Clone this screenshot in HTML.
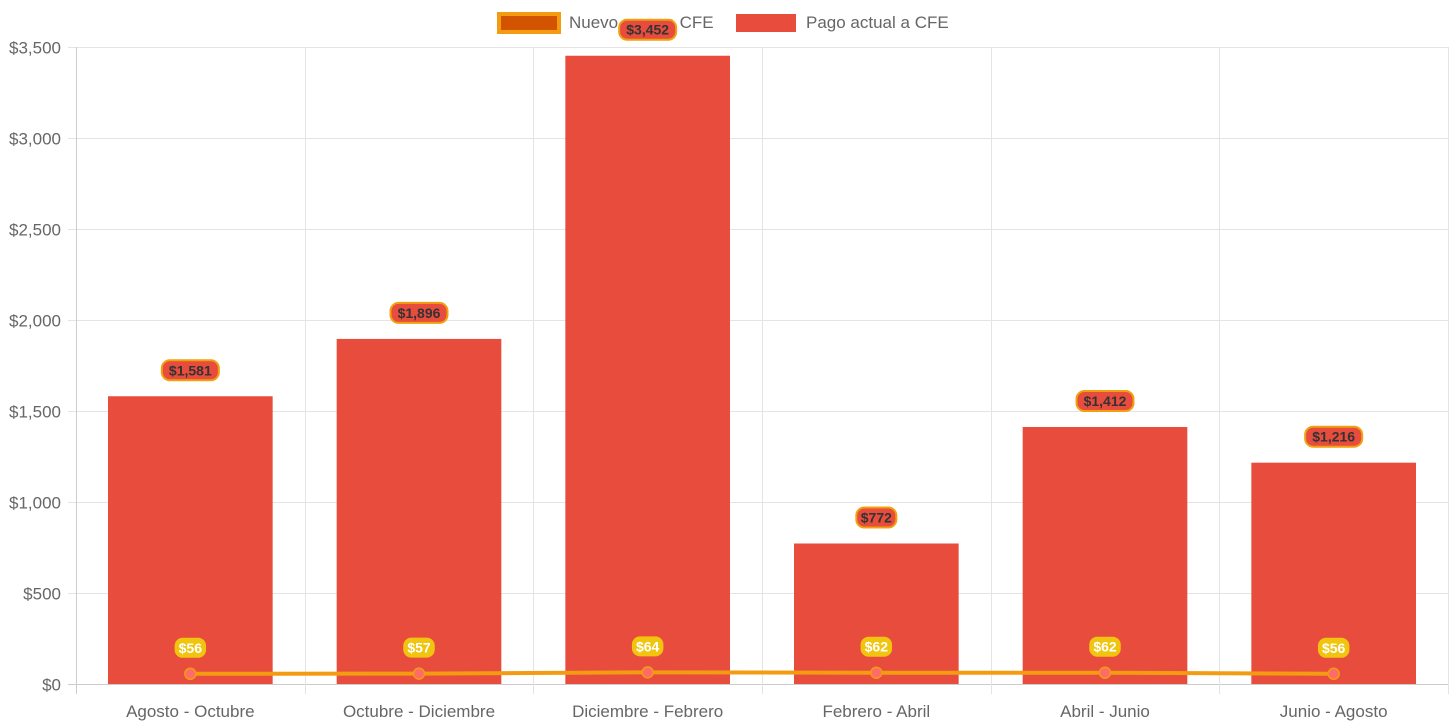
<!DOCTYPE html>
<html><head><meta charset="utf-8"><style>
body{margin:0;background:#fff;font-family:"Liberation Sans",Arial,sans-serif}
svg{display:block}
</style></head><body>
<svg id="chart" width="1456" height="727" xmlns="http://www.w3.org/2000/svg" font-family="Liberation Sans, Arial, sans-serif">
<g>
 <g>
  <rect x="499" y="14" width="60" height="18" fill="#d35400" stroke="#f39c12" stroke-width="4"/>
  <text x="569" y="28" font-size="17" fill="#666">Nuevo pago a CFE</text>
 </g>
 <g>
  <rect x="736" y="14" width="60" height="18" fill="#e74c3c"/>
  <text x="806" y="28" font-size="17" fill="#666">Pago actual a CFE</text>
 </g>
</g>
<g id="grid"></g>
<g id="bars"></g>
<g id="line"></g>
<g id="labels"></g>
</svg>
<script>
const categories=["Agosto - Octubre","Octubre - Diciembre","Diciembre - Febrero","Febrero - Abril","Abril - Junio","Junio - Agosto"];
const actualValues=[1581,1896,3452,772,1412,1216];
const nuevoValues=[56,57,64,62,62,56];
const yTicks=[0,500,1000,1500,2000,2500,3000,3500];
const NS="http://www.w3.org/2000/svg";
const X0=76,X1=1448,Y0=684,YT=47,YMAX=3500;
const cw=(X1-X0)/categories.length;
function xC(i){return X0+cw*(i+0.5);}
function yS(v){return Y0-(v/YMAX)*(Y0-YT);}
function fmt(v){return "$"+v.toLocaleString("en-US");}
function mk(tag,attrs,parent,txt){const e=document.createElementNS(NS,tag);for(const k in attrs)e.setAttribute(k,attrs[k]);if(txt!==undefined)e.textContent=txt;parent.appendChild(e);return e;}
const grid=document.getElementById("grid"),bars=document.getElementById("bars"),line=document.getElementById("line"),labels=document.getElementById("labels");
yTicks.forEach(t=>{const y=yS(t)+0.5;
 const l=mk("line",{x1:X0-8,x2:X1,y1:y,y2:y,stroke:t===0?"#ccc":"#e4e4e4","stroke-width":1},grid);
 
 
 const tx=mk("text",{x:X0-15,y:y+6,"font-size":17,fill:"#666","text-anchor":"end"},grid,fmt(t));
 
 
});
for(let i=0;i<=categories.length;i++){const x=Math.round(X0+cw*i)+0.5;
 const l=mk("line",{x1:x,x2:x,y1:YT,y2:Y0+10,stroke:i===0?"#ccc":"#e4e4e4","stroke-width":1},grid);
 
 
}
categories.forEach((c,i)=>{
 const t=mk("text",{x:xC(i),y:717,"font-size":17,fill:"#666","text-anchor":"middle"},grid,c);
 
 
});
const bw=cw*0.72;
actualValues.forEach((v,i)=>{
 const r=mk("rect",{x:xC(i)-bw/2,y:yS(v),width:bw,height:Y0-yS(v),fill:"#e74c3c"},bars);
 
 
});
const pts=nuevoValues.map((v,i)=>xC(i)+","+yS(v)).join(" ");
const pl=mk("polyline",{points:pts,fill:"none",stroke:"#f39c12","stroke-width":4},line);


nuevoValues.forEach((v,i)=>{
 const c=mk("circle",{cx:xC(i),cy:yS(v),r:5.5,fill:"#ff6b6b",stroke:"#f39c12","stroke-width":1.5},line);
 
 
});
function pill(x,y,txt,fill,stroke,color,name){
 const w=txt.length*8.5+6;
 const g=mk("g",{},labels);
 
 
 mk("rect",{x:x-w/2,y:y-10,width:w,height:20,rx:8,fill:fill,stroke:stroke,"stroke-width":stroke==="none"?0:2},g);
 mk("text",{x:x,y:y+5,"font-size":14,"font-weight":"bold",fill:color,"text-anchor":"middle"},g,txt);
}
actualValues.forEach((v,i)=>pill(xC(i),yS(v)-26,fmt(v),"#e74c3c","#f1a10f","#333","bar-value-label"));
nuevoValues.forEach((v,i)=>pill(xC(i),yS(v)-26,fmt(v),"#f1c40f","none","#fff","line-value-label"));
</script>
</body></html>
